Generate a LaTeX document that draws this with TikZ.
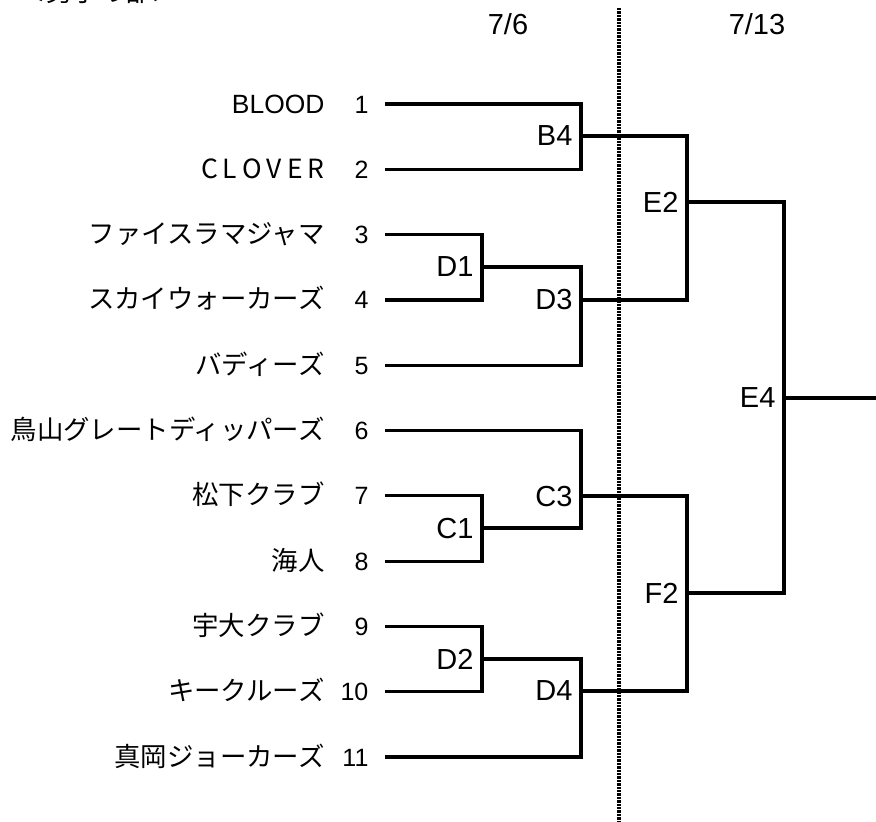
\documentclass[tikz,border=0pt]{standalone}
\usepackage{fontspec}
\setmainfont{Liberation Sans}
\newfontfamily\jp{Noto Sans CJK JP}
\usetikzlibrary{positioning}
\newcommand{\clover}{C\kern2.5pt L\kern2.5pt O\kern2.5pt V\kern2.5pt E\kern2.5pt R}

\begin{document}
\begin{tikzpicture}
		[x=0.5pt,y=-0.5pt,line width=1.6pt,line join=miter,
		 team/.style={anchor=base east,inner sep=0pt,font=\jp\fontsize{13.2}{15}\selectfont},
		 seed/.style={anchor=base east,inner sep=0pt,font=\fontsize{12.5}{15}\selectfont},
		 match/.style={inner sep=0pt,font=\fontsize{14.5}{17}\selectfont},
		 daybreak/.style={line width=1.8pt,dash pattern=on 1.2pt off 0.5pt}]
		\useasboundingbox (0,0) rectangle (876,821);
		\node[team,anchor=south west] (title) at (18,5) {＜男子の部＞};
		\node[match] (day1) at (508,24) {7/6};
		\node[match] (day2) at (757,24) {7/13};
		\coordinate (cut_t) at (619,8);
		\coordinate (cut_b) at (619,821);
		\draw[daybreak] (cut_t) -- (cut_b);
		% teams
		\foreach \name [count=\i] in {{\rmfamily BLOOD},\clover,ファイスラマジャマ,スカイウォーカーズ,バディーズ,鳥山グレートディッパーズ,松下クラブ,海人,宇大クラブ,キークルーズ,真岡ジョーカーズ}
		{
			\pgfmathsetmacro\y{104+(\i-1)*65.3}
			\node[team] (t\i) at (326,\y+9) {\name};
			\node[seed] (s\i) at (370,\y+9) {\i};
			\coordinate (n\i) at (385,\y);
		}
		% matches
		\coordinate (b4) at (581,136);
		\coordinate (d1) at (482,267);
		\coordinate (d3) at (581,300);
		\coordinate (e2) at (687,202);
		\coordinate (c1) at (482,528);
		\coordinate (c3) at (581,496);
		\coordinate (d2) at (482,659);
		\coordinate (d4) at (581,691);
		\coordinate (f2) at (687,593);
		\coordinate (e4) at (784,398);
		\coordinate (win) at (876,398);
		\node[match,left=3.5pt of b4] (B4) {B4};
		\node[match,left=3.5pt of d1] (D1) {D1};
		\node[match,left=3.5pt of d3] (D3) {D3};
		\node[match,left=3.5pt of e2] (E2) {E2};
		\node[match,left=3.5pt of c1] (C1) {C1};
		\node[match,left=3.5pt of c3] (C3) {C3};
		\node[match,left=3.5pt of d2] (D2) {D2};
		\node[match,left=3.5pt of d4] (D4) {D4};
		\node[match,left=3.5pt of f2] (F2) {F2};
		\node[match,left=3.5pt of e4] (E4) {E4};
		\draw (n1) -| (b4) (n2) -| (b4)
			(n3) -| (d1) (n4) -| (d1)
			(d1) -| (d3) (n5) -| (d3)
			(b4) -| (e2) (d3) -| (e2)
			(n7) -| (c1) (n8) -| (c1)
			(n6) -| (c3) (c1) -| (c3)
			(n9) -| (d2) (n10) -| (d2)
			(d2) -| (d4) (n11) -| (d4)
			(c3) -| (f2) (d4) -| (f2)
			(e2) -| (e4) (f2) -| (e4)
			(e4) -- (win);
\end{tikzpicture}
\end{document}
